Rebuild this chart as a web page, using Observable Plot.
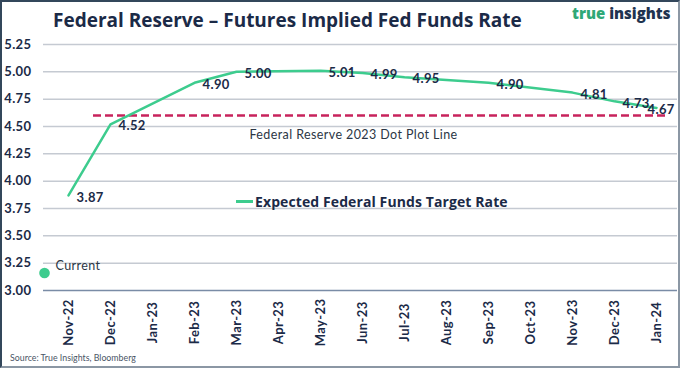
<!DOCTYPE html>
<html>
<head>
<meta charset="utf-8">
<script src="https://cdn.jsdelivr.net/npm/d3@7"></script>
<script src="https://cdn.jsdelivr.net/npm/@observablehq/plot@0.6"></script>
<style>
  html, body { margin: 0; padding: 0; background: #fff; }
  #wrap { position: relative; width: 680px; height: 368px; overflow: hidden; font-family: Lato, "Open Sans", sans-serif; background: #fff; }
  #frame { position: absolute; left: 0; top: 0; width: 680px; height: 368px; box-sizing: border-box;
           border-left: 2px solid #33475b; border-top: 2px solid #33475b; border-right: 2px solid #8b97a4; border-bottom: 2px solid #8b97a4; pointer-events: none; z-index: 5; }
  #title { position: absolute; left: 53px; top: 9px; font-family: "Open Sans", sans-serif; font-size: 19px; line-height: 22px; font-weight: 700; color: #1b2a47; white-space: nowrap; }
  #logo { position: absolute; left: 572px; top: 4px; font-family: "Open Sans", sans-serif; font-size: 15px; line-height: 19px; font-weight: 800; white-space: nowrap; }
  #logo .t { color: #2fa877; }
  #logo .i { color: #1f3350; }
  #chart { position: absolute; left: 0; top: 30px; }
  #legend { position: absolute; left: 236px; top: 192px; display: flex; align-items: center; font-family: "Open Sans", sans-serif; font-size: 14px; line-height: 19px; font-weight: 700; color: #1b2a47; white-space: nowrap; letter-spacing: 0.1px; }
  #legend .sw { width: 17px; height: 3px; background: #3dcc8e; margin-right: 2px; }
  #source { position: absolute; left: 10px; top: 352px; font-size: 8.8px; color: #4a5566; white-space: nowrap; }
</style>
</head>
<body>
<div id="wrap">
  <div id="title">Federal Reserve – Futures Implied Fed Funds Rate</div>
  <div id="logo"><span class="t">true</span> <span class="i">insights</span></div>
  <div id="chart"></div>
  <div id="legend"><div class="sw"></div><span>Expected Federal Funds Target Rate</span></div>
  <div id="source">Source: True Insights, Bloomberg</div>
  <div id="frame"></div>
</div>
<script>
// ---- data ----
const months = ["Nov-22","Dec-22","Jan-23","Feb-23","Mar-23","Apr-23","May-23","Jun-23","Jul-23","Aug-23","Sep-23","Oct-23","Nov-23","Dec-23","Jan-24"];
const meetingMonths = ["Nov-22","Dec-22","Feb-23","Mar-23","May-23","Jun-23","Jul-23","Sep-23","Nov-23","Dec-23","Jan-24"];
const impliedRate = [3.87, 4.52, 4.90, 5.00, 5.01, 4.99, 4.95, 4.90, 4.81, 4.73, 4.67];
const yTicks = [3.00, 3.25, 3.50, 3.75, 4.00, 4.25, 4.50, 4.75, 5.00, 5.25];
const dotPlotRate = 4.6;
const dotPlotLabel = "Federal Reserve 2023 Dot Plot Line";
const currentRate = 3.16;
const currentLabel = "Current";

const rows = meetingMonths.map((m, i) => ({month: m, rate: impliedRate[i]}));
const lastRow = rows[rows.length - 1];
const bodyRows = rows.slice(0, -1);

const green = "#3dcc8e";
const navy = "#1b2a47";

const chart = Plot.plot({
  width: 680,
  height: 338,
  marginTop: 14,
  marginBottom: 78,
  marginLeft: 43,
  marginRight: 3,
  style: {fontFamily: "Lato, sans-serif", fontSize: "13px", fontWeight: "700", color: navy, letterSpacing: "0.4px", background: "transparent"},
  x: {type: "point", domain: months, padding: 0.47, align: 0.55},
  y: {domain: [3, 5.25]},
  marks: [
    Plot.ruleY(yTicks.slice(1), {stroke: "#c5cad2", strokeWidth: 1.5}),
    Plot.ruleY([3], {stroke: "#7a8ca6", strokeWidth: 1.5}),
    Plot.axisY({ticks: yTicks, tickSize: 0, tickPadding: 12, tickFormat: d3.format(".2f"), fill: navy, fontSize: 13, label: null}),
    Plot.axisX({tickSize: 0, tickRotate: -90, tickPadding: 32, textAnchor: "middle", lineAnchor: "middle", fill: navy, fontSize: 13, label: null}),
    Plot.ruleY([dotPlotRate], {y: d => d, x1: () => months[0], x2: () => months[months.length - 1], insetLeft: 25, insetRight: -11,
      stroke: "#c8235c", strokeWidth: 2.5, strokeDasharray: "8,4"}),
    Plot.text([dotPlotLabel], {x: () => "Jun-23", y: () => dotPlotRate, dx: -9, dy: 19, text: d => d,
      fontWeight: "400", fontSize: 12.5, fill: "#2b3645", textAnchor: "middle", letterSpacing: 0.3}),
    Plot.line(rows, {x: "month", y: "rate", stroke: green, strokeWidth: 2.5}),
    Plot.text(bodyRows, {x: "month", y: "rate", text: d => d.rate.toFixed(2), dx: 8, dy: 2, textAnchor: "start", fill: navy, fontSize: 13}),
    Plot.text([lastRow], {x: "month", y: "rate", text: d => d.rate.toFixed(2), dx: -9, dy: 2, textAnchor: "start", fill: navy, fontSize: 13}),
    Plot.dot([currentRate], {x: () => months[0], y: d => d, dx: -24, r: 5.3, fill: green, stroke: "none"}),
    Plot.text([currentRate], {x: () => months[0], y: d => d, text: () => currentLabel, dx: -13, dy: -7,
      textAnchor: "start", fontWeight: "400", fontSize: 12.5, fill: "#2b3645"})
  ]
});
document.getElementById("chart").appendChild(chart);
</script>
</body>
</html>
